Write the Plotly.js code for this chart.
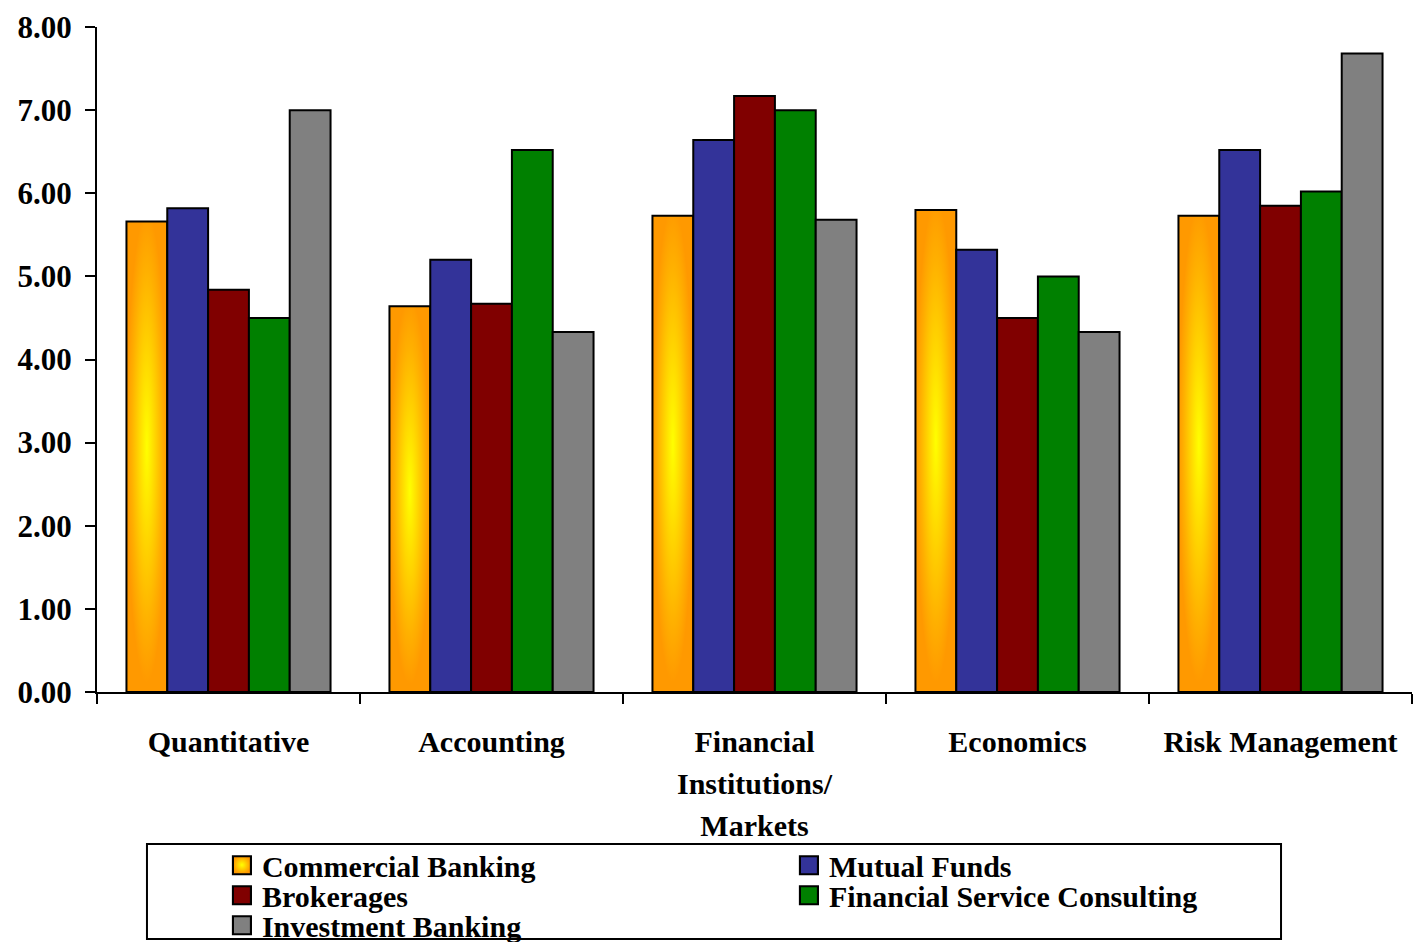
<!DOCTYPE html>
<html>
<head>
<meta charset="utf-8">
<script src="https://cdn.plot.ly/plotly-3.0.1.min.js"></script>
<style>html,body{margin:0;padding:0;background:#fff;}#chart{width:1414px;height:942px;}</style>
</head>
<body>
<div id="chart"></div>
<script>
const categories = ["Quantitative", "Accounting", "Financial<br>Institutions/<br>Markets", "Economics", "Risk Management"];
const seriesNames = ["Commercial Banking", "Mutual Funds", "Brokerages", "Financial Service Consulting", "Investment Banking"];
const commercialBanking = [5.66, 4.64, 5.73, 5.80, 5.73];
const mutualFunds = [5.82, 5.20, 6.64, 5.32, 6.52];
const brokerages = [4.84, 4.67, 7.17, 4.50, 5.85];
const financialServiceConsulting = [4.50, 6.52, 7.00, 5.00, 6.02];
const investmentBanking = [7.00, 4.33, 5.68, 4.33, 7.68];
const yTicks = [0, 1, 2, 3, 4, 5, 6, 7, 8];

const seriesValues = [commercialBanking, mutualFunds, brokerages, financialServiceConsulting, investmentBanking];
const colors = ["#FFB000", "#333399", "#800000", "#008000", "#808080"];
const FONT = "Liberation Serif, Times New Roman, serif";

const data = seriesValues.map((vals, i) => ({
  type: "bar",
  name: seriesNames[i],
  x: categories,
  y: vals,
  marker: {color: colors[i], line: {color: "#000", width: 2}},
  hoverinfo: "skip"
}));

const layout = {
  width: 1414, height: 942,
  margin: {l: 97, r: 2, t: 27, b: 250, autoexpand: false},
  paper_bgcolor: "#fff", plot_bgcolor: "#fff",
  barmode: "group", bargap: 0.224, bargroupgap: 0,
  font: {family: FONT, color: "#000", weight: "bold"},
  xaxis: {
    type: "category", showgrid: false, zeroline: false,
    showline: true, linecolor: "#000", linewidth: 2,
    ticks: "outside", tickson: "boundaries", ticklen: 10, tickwidth: 2, tickcolor: "#000",
    tickfont: {family: FONT, size: 30, color: "#000", weight: "bold"},
    ticklabelstandoff: 22, tickangle: 0, fixedrange: true
  },
  yaxis: {
    range: [0, 8], tickvals: yTicks, tickformat: ".2f",
    showgrid: false, zeroline: false,
    showline: true, linecolor: "#000", linewidth: 2,
    ticks: "outside", ticklen: 10, tickwidth: 2, tickcolor: "#000",
    tickfont: {family: FONT, size: 31, color: "#000", weight: "bold"},
    ticklabelstandoff: 7, fixedrange: true
  },
  showlegend: true,
  legend: {
    orientation: "h", x: 0.095, xanchor: "left", y: -0.2215, yanchor: "top",
    entrywidth: 522, entrywidthmode: "pixels",
    font: {family: FONT, size: 30, color: "#000", weight: "bold"},
    bgcolor: "rgba(0,0,0,0)", borderwidth: 0, traceorder: "normal",
    itemclick: false, itemdoubleclick: false
  },
  shapes: [{
    type: "rect", xref: "paper", yref: "paper",
    x0: 0.038, x1: 0.9004, y0: -0.2286, y1: -0.3715,
    line: {color: "#000", width: 2}, fillcolor: "rgba(0,0,0,0)", layer: "below"
  }]
};

const gd = document.getElementById("chart");
Plotly.newPlot(gd, data, layout, {staticPlot: true, displayModeBar: false}).then(() => {
  const NS = "http://www.w3.org/2000/svg";
  const svg = gd.querySelector("svg.main-svg");
  let defs = svg.querySelector("defs");
  if (!defs) { defs = document.createElementNS(NS, "defs"); svg.insertBefore(defs, svg.firstChild); }
  const grad = document.createElementNS(NS, "radialGradient");
  grad.setAttribute("id", "cbgrad");
  grad.setAttribute("cx", "0.5"); grad.setAttribute("cy", "0.48"); grad.setAttribute("r", "0.5");
  [["0", "#FFFF00"], ["0.3", "#FFE000"], ["0.75", "#FFB000"], ["1", "#FF9900"]].forEach(([o, c]) => {
    const s = document.createElementNS(NS, "stop");
    s.setAttribute("offset", o); s.setAttribute("stop-color", c);
    grad.appendChild(s);
  });
  defs.appendChild(grad);
  const barTraces = gd.querySelectorAll(".barlayer .trace");
  if (barTraces[0]) barTraces[0].querySelectorAll("path").forEach(p => { p.style.fill = "url(#cbgrad)"; });
  // multi-line category label spacing: scale Plotly's own line offsets
  gd.querySelectorAll(".xtick text tspan.line").forEach(ts => {
    const dy = ts.getAttribute("dy");
    if (dy) {
      const v = parseFloat(dy);
      if (!isNaN(v) && v !== 0) ts.setAttribute("dy", (v * 1.4 / 1.3).toFixed(3) + "em");
    }
  });
  const legTraces = Array.from(gd.querySelectorAll(".legend .traces"));
  // legend symbols: enlarge keeping Plotly's own placement
  legTraces.forEach((t, i) => {
    t.querySelectorAll(".legendpoints path").forEach(p => {
      const tr = p.getAttribute("transform") || "";
      p.setAttribute("transform", tr + " scale(1.5)");
      p.style.strokeWidth = "1.4px";
      p.style.stroke = "#000";
      if (i === 0) p.style.fill = "url(#cbgrad)";
    });
  });
  // tighten legend rows
  const parse = t => {
    const m = /translate\(\s*([-\d.]+)[ ,]+([-\d.]+)\s*\)/.exec(t.getAttribute("transform") || "");
    return m ? [parseFloat(m[1]), parseFloat(m[2])] : [0, 0];
  };
  const ys = Array.from(new Set(legTraces.map(t => parse(t)[1]))).sort((a, b) => a - b);
  legTraces.forEach(t => {
    const [x, y] = parse(t);
    const row = ys.indexOf(y);
    t.setAttribute("transform", `translate(${x},${ys[0] + row * 30})`);
  });
});
</script>
</body>
</html>
